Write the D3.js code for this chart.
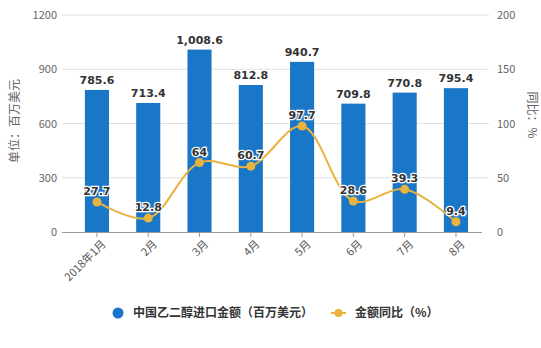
<!DOCTYPE html>
<html><head><meta charset="utf-8">
<script src="https://cdn.jsdelivr.net/npm/d3@7/dist/d3.min.js"></script>
<style>body{margin:0;background:#fff;}svg{display:block;}</style>
</head><body>
<svg id="c" width="541" height="348"></svg>
<script>
const categories = ["2018年1月","2月","3月","4月","5月","6月","7月","8月"];
const importValues = [785.6, 713.4, 1008.6, 812.8, 940.7, 709.8, 770.8, 795.4];
const yoyValues = [27.7, 12.8, 64, 60.7, 97.7, 28.6, 39.3, 9.4];
const leftTicks = [0, 300, 600, 900, 1200];
const rightTicks = [0, 50, 100, 150, 200];
const seriesNames = ["中国乙二醇进口金额（百万美元）", "金额同比（%）"];
const axisTitles = ["单位：百万美元", "同比：%"];

const svg = d3.select("#c");
const font = "'Noto Sans CJK SC', 'Microsoft YaHei', sans-serif";
const barColor = "#1a76c6", lineColor = "#e8b33e";
const x0 = 62, x1 = 489, yTop = 15, yBot = 232;

const x = d3.scaleBand().domain(categories).range([71.3, 481.6]).paddingInner(0.53).paddingOuter(0.265);
const yL = d3.scaleLinear().domain([0, 1200]).range([yBot, yTop]);
const yR = d3.scaleLinear().domain([0, 200]).range([yBot, yTop]);

// grid
svg.append("g").selectAll("line").data(leftTicks.slice(1)).join("line")
  .attr("x1", x0).attr("x2", x1).attr("y1", d => yL(d)).attr("y2", d => yL(d))
  .attr("stroke", "#e0e0e0").attr("stroke-width", 1);

// left axis labels
const gl = svg.append("g").attr("transform", `translate(${x0},0)`)
  .call(d3.axisLeft(yL).tickValues(leftTicks).tickFormat(d3.format("d")).tickSize(0).tickPadding(5));
gl.select(".domain").remove();
gl.selectAll("text").attr("font-family", font).attr("font-size", 11).attr("fill", "#666");

const gr = svg.append("g").attr("transform", `translate(${x1},0)`)
  .call(d3.axisRight(yR).tickValues(rightTicks).tickFormat(d3.format("d")).tickSize(0).tickPadding(8));
gr.select(".domain").remove();
gr.selectAll("text").attr("font-family", font).attr("font-size", 11).attr("fill", "#666");

// bars
svg.append("g").selectAll("rect").data(importValues).join("rect")
  .attr("x", (d, i) => x(categories[i])).attr("width", x.bandwidth())
  .attr("y", d => yL(d)).attr("height", d => yBot - yL(d)).attr("fill", barColor);

// bar labels
svg.append("g").selectAll("text").data(importValues).join("text")
  .attr("x", (d, i) => x(categories[i]) + x.bandwidth() / 2).attr("y", d => yL(d) - 6)
  .attr("text-anchor", "middle").attr("font-family", "'DejaVu Sans', sans-serif")
  .attr("font-weight", "bold").attr("font-size", 11).attr("fill", "#333")
  .text(d => d3.format(",")(d));

// x axis
const gx = svg.append("g").attr("transform", `translate(0,${yBot})`)
  .call(d3.axisBottom(x).tickSize(5).tickPadding(3));
gx.select(".domain").attr("d", `M${x0},0.5H482`).attr("stroke", "#999");
gx.selectAll(".tick line").attr("stroke", "#999");
gx.selectAll("text").attr("font-family", font).attr("font-size", 11).attr("fill", "#555")
  .attr("text-anchor", "end").attr("transform", "rotate(-45)").attr("dx", "-0.2em").attr("dy", "0.7em");

// line
const cx = (i) => x(categories[i]) + x.bandwidth() / 2;
const line = d3.line().x((d, i) => cx(i)).y(d => yR(d)).curve(d3.curveCatmullRom.alpha(0.5));
svg.append("path").datum(yoyValues).attr("d", line).attr("fill", "none")
  .attr("stroke", lineColor).attr("stroke-width", 2);
svg.append("g").selectAll("circle").data(yoyValues).join("circle")
  .attr("cx", (d, i) => cx(i)).attr("cy", d => yR(d)).attr("r", 4.5)
  .attr("fill", lineColor);
svg.append("g").selectAll("text").data(yoyValues).join("text")
  .attr("x", (d, i) => cx(i)).attr("y", d => yR(d) - 7)
  .attr("text-anchor", "middle").attr("font-family", "'DejaVu Sans', sans-serif")
  .attr("font-weight", "bold").attr("font-size", 11).attr("fill", "#333")
  .attr("stroke", "#fff").attr("stroke-width", 2.5).attr("paint-order", "stroke")
  .text(d => d);

// axis titles
svg.append("text").attr("transform", "translate(19,121) rotate(-90)")
  .attr("text-anchor", "middle").attr("font-family", font).attr("font-size", 12).attr("fill", "#666")
  .text(axisTitles[0]);
svg.append("text").attr("transform", "translate(528,115) rotate(90)")
  .attr("text-anchor", "middle").attr("font-family", font).attr("font-size", 12).attr("fill", "#666")
  .text(axisTitles[1]);

// legend
const lg = svg.append("g");
lg.append("circle").attr("cx", 118).attr("cy", 313).attr("r", 5.5).attr("fill", barColor);
lg.append("text").attr("x", 133).attr("y", 317).attr("font-family", font).attr("font-size", 12)
  .attr("font-weight", "bold").attr("fill", "#333").text(seriesNames[0]);
lg.append("line").attr("x1", 331).attr("x2", 346).attr("y1", 313).attr("y2", 313)
  .attr("stroke", lineColor).attr("stroke-width", 2);
lg.append("circle").attr("cx", 338.5).attr("cy", 313).attr("r", 4).attr("fill", lineColor);
lg.append("text").attr("x", 355).attr("y", 317).attr("font-family", font).attr("font-size", 12)
  .attr("font-weight", "bold").attr("fill", "#333").text(seriesNames[1]);
</script>
</body></html>
